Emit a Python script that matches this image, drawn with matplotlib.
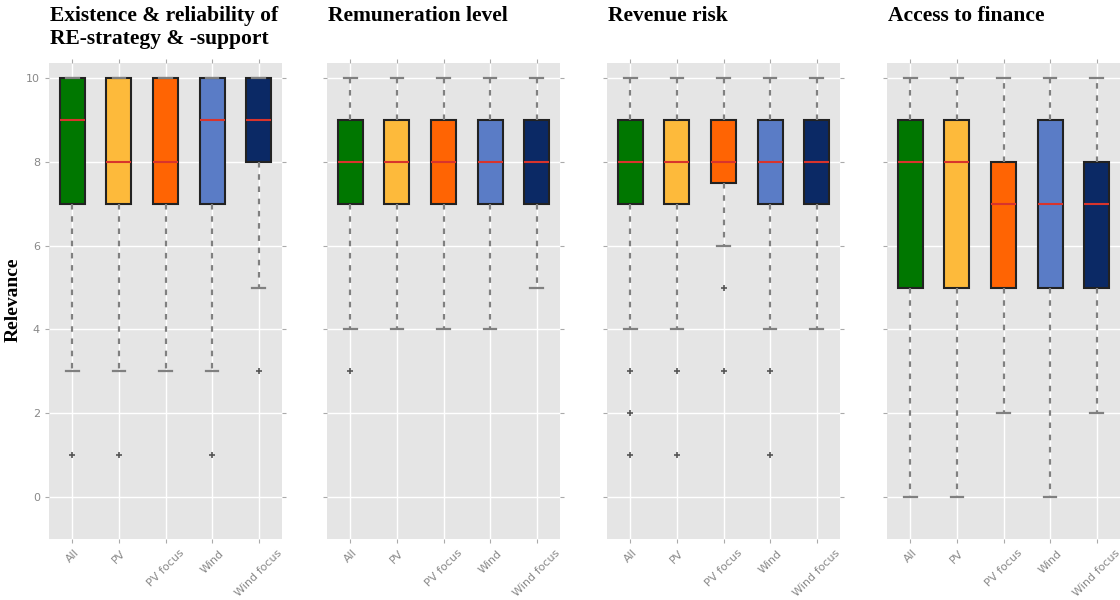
import matplotlib
matplotlib.use('Agg')
import matplotlib.pyplot as plt

# categories and colours
groups = ['All', 'PV', 'PV focus', 'Wind', 'Wind focus']
box_colors = ['#007700', '#FDBA3B', '#FF6403', '#5A7CC6', '#0B2965']

titles = ['Existence & reliability of\nRE-strategy & -support',
          'Remuneration level', 'Revenue risk', 'Access to finance']

# box statistics per panel, one value per group
q1 = [[7, 7, 7, 7, 8], [7, 7, 7, 7, 7], [7, 7, 7.5, 7, 7], [5, 5, 5, 5, 5]]
med = [[9, 8, 8, 9, 9], [8, 8, 8, 8, 8], [8, 8, 8, 8, 8], [8, 8, 7, 7, 7]]
q3 = [[10, 10, 10, 10, 10], [9, 9, 9, 9, 9], [9, 9, 9, 9, 9], [9, 9, 8, 9, 8]]
whis_lo = [[3, 3, 3, 3, 5], [4, 4, 4, 4, 5], [4, 4, 6, 4, 4], [0, 0, 2, 0, 2]]
whis_hi = [[10, 10, 10, 10, 10], [10, 10, 10, 10, 10], [10, 10, 10, 10, 10], [10, 10, 10, 10, 10]]
fliers = [
    [[1], [1], [], [1], [3]],
    [[3], [], [], [], []],
    [[3, 2, 1], [3, 1], [5, 3], [3, 1], []],
    [[], [], [], [], []],
]

yticks = [0, 2, 4, 6, 8, 10]

fig = plt.figure(figsize=(11.2, 6), dpi=100)
lefts = [49, 327, 607, 887]
serif = ['Liberation Serif', 'DejaVu Serif']

for p in range(4):
    ax = fig.add_axes([lefts[p] / 1120, 61 / 600, 233 / 1120, 476 / 600])
    ax.set_facecolor('#E5E5E5')
    for s in ax.spines.values():
        s.set_visible(False)
    ax.set_axisbelow(True)
    ax.grid(True, color='white', linewidth=1.0)

    stats = []
    for i, g in enumerate(groups):
        stats.append(dict(label=g, med=med[p][i], q1=q1[p][i], q3=q3[p][i],
                          whislo=whis_lo[p][i], whishi=whis_hi[p][i], fliers=fliers[p][i]))
    bp = ax.bxp(stats, positions=range(1, 6), widths=0.54, patch_artist=True,
                boxprops=dict(edgecolor='#222222', linewidth=1.5),
                medianprops=dict(color='#D8342C', linewidth=1.5),
                whiskerprops=dict(color='#808080', linestyle=(0, (2.5, 3)), linewidth=1.6),
                capprops=dict(color='#808080', linewidth=1.6),
                flierprops=dict(marker='+', markeredgecolor='#555555', markersize=5,
                                markeredgewidth=1.2))
    for patch, c in zip(bp['boxes'], box_colors):
        patch.set_facecolor(c)

    ax.set_xlim(0.5, 5.5)
    ax.set_ylim(-1.0, 10.36)
    ax.set_yticks(yticks)
    ax.set_xticks(range(1, 6))
    ax.set_xticklabels(groups, rotation=45, ha='center', fontsize=8, color='#888888')
    ax.tick_params(axis='both', colors='#AAAAAA', length=3, width=0.8, labelcolor='#888888',
                   labelsize=8, top=True, right=True, direction='out')
    if p > 0:
        ax.set_yticklabels([])

    fig.text(lefts[p] / 1120 + 0.001, 1 - 6 / 600, titles[p], ha='left', va='top',
             fontsize=15.5, fontweight='bold', family=serif, linespacing=1.2)

fig.text(13 / 1120, 0.5, 'Relevance', rotation=90, ha='center', va='center',
         fontsize=14, fontweight='bold', family=serif)

fig.savefig('out.png', dpi=100)
